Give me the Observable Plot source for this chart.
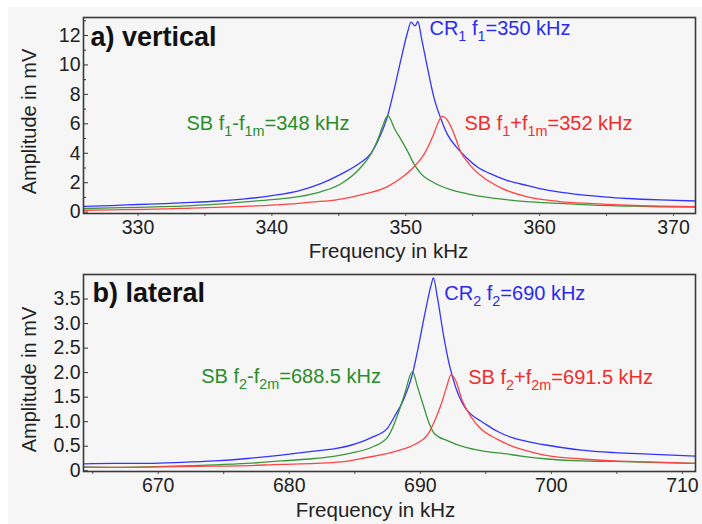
<!DOCTYPE html>
<html><head><meta charset="utf-8">
<script src="https://cdn.jsdelivr.net/npm/d3@7"></script>
<script src="https://cdn.jsdelivr.net/npm/@observablehq/plot@0.6"></script>
<style>
html,body{margin:0;padding:0;background:#fff;}
#wrap{position:relative;width:702px;height:524px;background:#fff;overflow:hidden;}
#bg{position:absolute;left:8px;top:7px;right:0;bottom:0;background:#f6f6f6;}
#top,#bot{position:absolute;left:0;}
#top{top:0}
#bot{top:262px}
svg{overflow:visible}
</style></head><body>
<div id="wrap"><div id="bg"></div><div id="top"></div><div id="bot"></div></div>
<script>
// ---------- Data (frequency kHz, amplitude mV) ----------
const topCR = [[325.93,0.40],[328,0.45],[330,0.52],[332,0.58],[334,0.66],[336,0.76],[338,0.9],[340,1.12],[342,1.45],[343.7,1.95],[345.2,2.6],[346.6,3.35],[347.4,4.0],[348.1,5.2],[348.6,6.4],[349.1,8.2],[349.6,10.2],[350.1,12.1],[350.4,12.9],[350.7,12.65],[350.9,12.95],[351.2,11.7],[351.6,9.9],[352.1,7.8],[352.6,6.4],[353.1,5.3],[353.8,4.4],[354.6,3.65],[355.3,3.1],[356.6,2.5],[357.6,2.15],[359.1,1.8],[360.0,1.6],[361.5,1.36],[362.5,1.24],[364,1.1],[365,1.02],[366.5,0.93],[369,0.83],[371.64,0.76]];
const topSBminus = [[325.93,0.25],[328,0.29],[330,0.33],[334,0.45],[336,0.55],[338,0.7],[340,0.85],[342,1.05],[343.7,1.4],[345.2,1.95],[346.6,3.0],[347.4,3.95],[347.9,4.9],[348.3,5.9],[348.65,6.55],[349.2,5.6],[349.6,5.0],[350.1,4.2],[350.6,3.3],[351.1,2.65],[352.1,2.0],[353.3,1.55],[354.6,1.25],[356,1.02],[357.5,0.85],[359,0.72],[361.5,0.6],[364,0.48],[366.5,0.42],[369,0.37],[371.64,0.35]];
const topSBplus = [[325.93,0.13],[328,0.16],[330,0.18],[334,0.28],[338,0.4],[340,0.48],[342,0.6],[342.9,0.68],[344.7,0.82],[347.1,1.27],[348.6,1.72],[349.6,2.28],[350.6,3.07],[351.4,3.98],[352.0,5.1],[352.5,6.24],[352.7,6.5],[353.2,6.12],[353.6,5.33],[354.1,4.1],[354.8,3.2],[355.8,2.35],[357.1,1.65],[359.1,1.04],[361.5,0.72],[364,0.58],[366.5,0.47],[369,0.41],[371.64,0.38]];

const botCR = [[664.3,0.14],[666.7,0.15],[669.2,0.15],[671.8,0.17],[674.3,0.2],[676.8,0.25],[679.4,0.32],[681.9,0.4],[683.5,0.45],[684.7,0.52],[686.3,0.68],[687.5,0.87],[688.0,1.09],[688.8,1.5],[689.4,1.97],[689.9,2.59],[690.4,3.27],[690.85,3.81],[691.0,3.93],[691.3,3.54],[691.8,2.72],[692.2,2.18],[692.7,1.7],[693.4,1.29],[694.1,1.1],[694.7,1.0],[695.9,0.8],[697.2,0.66],[698.5,0.58],[699.7,0.52],[702.3,0.42],[704.8,0.37],[707.4,0.34],[711.0,0.3]];
const botSBminus = [[664.3,0.08],[666.7,0.07],[669.2,0.08],[671.8,0.1],[674.3,0.12],[676.8,0.15],[679.4,0.2],[681.9,0.25],[683.5,0.3],[684.7,0.36],[686.3,0.48],[687.5,0.68],[688.3,1.16],[688.8,1.56],[689.4,2.02],[689.8,1.7],[690.2,1.36],[690.6,1.02],[691.1,0.75],[692.1,0.61],[693.4,0.48],[694.6,0.41],[696.4,0.35],[697.7,0.3],[699.7,0.24],[702.3,0.2],[704.8,0.19],[707.4,0.17],[711.0,0.15]];
const botSBplus = [[664.3,0.07],[667,0.07],[670,0.08],[673,0.09],[676,0.1],[679.4,0.13],[682,0.15],[683.9,0.18],[685.7,0.26],[688.3,0.41],[689.6,0.54],[690.6,0.75],[691.1,1.02],[691.6,1.36],[692.0,1.7],[692.35,1.96],[692.7,1.84],[693.2,1.43],[693.9,1.09],[694.6,0.86],[695.9,0.64],[697.2,0.48],[698.5,0.38],[699.7,0.31],[702.3,0.24],[704.8,0.2],[707.4,0.18],[711.0,0.15]];

// tick values / labels
const topXTicks = [330, 340, 350, 360, 370];
const topXMinor = [330, 335, 340, 345, 350, 355, 360, 365, 370];
const topYTicks = [0, 2, 4, 6, 8, 10, 12];
const topYMinor = [1, 3, 5, 7, 9, 11, 13];
const botXTicks = [670, 680, 690, 700, 710];
const botXMinor = [665, 670, 675, 680, 685, 690, 695, 700, 705, 710];
const botYTicks = [0, 0.5, 1.0, 1.5, 2.0, 2.5, 3.0, 3.5];

// annotation labels (anchor in data units: kHz, mV)
const topLabels = [
  {key: "CR", f: 351.77, a: 12.0, t: "CR_{1} f_{1}=350 kHz"},
  {key: "SBm", f: 333.62, a: 5.55, t: "SB f_{1}-f_{1m}=348 kHz"},
  {key: "SBp", f: 354.38, a: 5.55, t: "SB f_{1}+f_{1m}=352 kHz"}
];
const botLabels = [
  {key: "CR", f: 691.83, a: 3.48, t: "CR_{2} f_{2}=690 kHz"},
  {key: "SBm", f: 673.28, a: 1.79, t: "SB f_{2}-f_{2m}=688.5 kHz"},
  {key: "SBp", f: 693.66, a: 1.77, t: "SB f_{2}+f_{2m}=691.5 kHz"}
];
const titles = ["a) vertical", "b) lateral"];
const xLabel = "Frequency in kHz";
const yLabel = "Amplitude in mV";

// ---------- Styles ----------
const lineColor = {CR: "#3434ff", SBm: "#3a963a", SBp: "#ff4444"};
const textColor = {CR: "#2a2af0", SBm: "#2a8c2a", SBp: "#f22c2c"};
const FONT = "'Liberation Sans', Arial, Helvetica, sans-serif";

function panel({series, labels, title, xDomain, yDomain, xTicks, xMinor, yTicks, yMinor, yFmt, height, mTop, mBottom, titleDx, titleDy, xLabDx, xLabDy, yLabDy}) {
  const pxX = (xDomain[1] - xDomain[0]) / (702 - 83 - 7);
  const marks = [
    Plot.ruleY(yTicks, {y: d => d, x1: xDomain[0], x2: xDomain[0] + 5 * pxX, stroke: "#333", strokeWidth: 1}),
    Plot.ruleY(yMinor, {y: d => d, x1: xDomain[0], x2: xDomain[0] + 3 * pxX, stroke: "#333", strokeWidth: 1}),
    Plot.axisY({ticks: yTicks, tickSize: 0, tickPadding: 3, tickFormat: yFmt, fontSize: 19.5, fill: "#222"}),
    Plot.axisX({ticks: xMinor, tickSize: 3, tickFormat: () => "", stroke: "#555"}),
    Plot.axisX({ticks: xTicks, tickSize: 0, tickPadding: 7, fontSize: 19.5, fill: "#222"}),
    Plot.line(series.CR, {x: d => d[0], y: d => d[1], stroke: lineColor.CR, strokeWidth: 1.3, curve: "monotone-x"}),
    Plot.line(series.SBm, {x: d => d[0], y: d => d[1], stroke: lineColor.SBm, strokeWidth: 1.3, curve: "monotone-x"}),
    Plot.line(series.SBp, {x: d => d[0], y: d => d[1], stroke: lineColor.SBp, strokeWidth: 1.3, curve: "monotone-x"}),
    ...labels.map(l => Plot.text([l], {x: "f", y: "a", text: "t", fill: textColor[l.key], fontSize: 20, textAnchor: "start", lineAnchor: "bottom"})),
    Plot.text([title], {frameAnchor: "top-left", dx: titleDx, dy: titleDy, text: d => d, fontSize: 27, fontWeight: "bold", fill: "#111", textAnchor: "start", lineAnchor: "bottom"}),
    Plot.text([xLabel], {frameAnchor: "bottom", dx: xLabDx, dy: xLabDy, text: d => d, fontSize: 20.5, fill: "#222", textAnchor: "middle", lineAnchor: "bottom"}),
    Plot.text([yLabel], {frameAnchor: "left", dx: -54, dy: yLabDy, rotate: -90, text: d => d, fontSize: 20, fill: "#222", textAnchor: "middle", lineAnchor: "middle"}),
    Plot.frame({stroke: "#3a3a3a", strokeWidth: 1.6})
  ];
  const svg = Plot.plot({
    width: 702, height,
    marginLeft: 83, marginRight: 7, marginTop: mTop, marginBottom: mBottom,
    style: {background: "transparent", fontFamily: FONT, overflow: "visible"},
    x: {domain: xDomain, label: null},
    y: {domain: yDomain, label: null},
    marks
  });
  subscripts(svg);
  return svg;
}

function subscripts(svg) {
  const NS = "http://www.w3.org/2000/svg";
  d3.select(svg).selectAll("text").each(function () {
    const s = this.textContent;
    if (!s.includes("_{")) return;
    const fs = parseFloat(this.getAttribute("font-size")) || 20;
    const parts = s.split(/(_\{[^}]*\})/).filter(p => p.length);
    this.textContent = "";
    let inSub = false;
    const shift = fs * 0.3;
    for (const p of parts) {
      const m = p.match(/^_\{(.*)\}$/);
      const t = document.createElementNS(NS, "tspan");
      if (m) {
        t.textContent = m[1];
        t.setAttribute("font-size", (fs * 0.72).toFixed(1));
        if (!inSub) t.setAttribute("dy", shift.toFixed(1));
        inSub = true;
      } else {
        t.textContent = p;
        if (inSub) t.setAttribute("dy", (-shift).toFixed(1));
        inSub = false;
      }
      this.appendChild(t);
    }
  });
}

const fmtTop = d => String(d);
const fmtBot = d => d === 0 ? "0" : d.toFixed(1);

document.getElementById("top").appendChild(panel({
  series: {CR: topCR, SBm: topSBminus, SBp: topSBplus},
  labels: topLabels, title: titles[0],
  xDomain: [325.93, 371.64], yDomain: [-0.09, 13.22],
  xTicks: topXTicks, xMinor: topXMinor, yTicks: topYTicks, yMinor: topYMinor, yFmt: fmtTop,
  height: 262, mTop: 17, mBottom: 49,
  titleDx: 7, titleDy: 28, xLabDx: -1, xLabDy: 44, yLabDy: 6
}));
document.getElementById("bot").appendChild(panel({
  series: {CR: botCR, SBm: botSBminus, SBp: botSBplus},
  labels: botLabels, title: titles[1],
  xDomain: [664.3, 711.0], yDomain: [-0.015, 4.0],
  xTicks: botXTicks, xMinor: botXMinor, yTicks: botYTicks, yMinor: [], yFmt: fmtBot,
  height: 262, mTop: 12, mBottom: 53,
  titleDx: 9, titleDy: 27, xLabDx: -14, xLabDy: 45, yLabDy: 6.5
}));
</script></body></html>
